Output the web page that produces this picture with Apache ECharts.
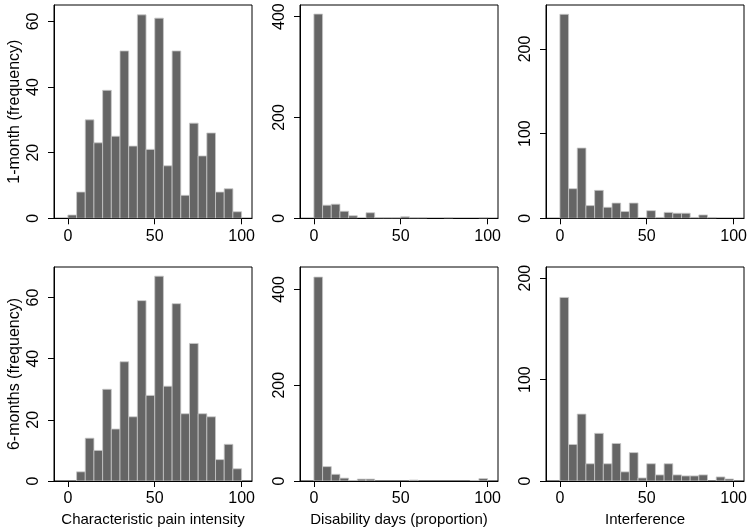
<!DOCTYPE html>
<html>
<head>
<meta charset="utf-8">
<script src="https://cdn.jsdelivr.net/npm/echarts@6/dist/echarts.min.js"></script>
<style>
html,body{margin:0;padding:0;background:#fff;}
#c{width:750px;height:531px;}
</style>
</head>
<body>
<div id="c"></div>
<script>
// ---- data ----
const binStarts = [0,5,10,15,20,25,30,35,40,45,50,55,60,65,70,75,80,85,90,95];
const binWidth = 5;
const pain1m  = [1,8,30,23,39,25,51,22,62,21,61,16,51,7,29,19,26,8,9,2];
const dis1m   = [405,26,28,14,5,0,11,1,1,1,3,1,1,0,0,1,0,0,0,1];
const inter1m = [241,35,83,15,33,13,18,8,18,0,9,1,7,6,6,1,4,1,0,0];
const pain6m  = [0,3,14,10,30,17,39,21,59,28,67,31,58,22,45,22,21,7,12,4];
const dis6m   = [426,30,14,6,1,4,4,0,0,0,0,2,0,0,0,0,0,0,1,5];
const inter6m = [181,36,66,17,47,17,37,9,28,3,17,6,17,6,5,5,6,0,4,2];
const xTicks = [0,50,100];
const yTicksPain = [0,20,40,60];
const yTicksDis = [0,200,400];
const yTicksInter = [0,100,200];
const rowTitles = ['1-month (frequency)','6-months (frequency)'];
const colTitles = ['Characteristic pain intensity','Disability days (proportion)','Interference'];

// ---- layout ----
const panels = [
  {data: pain1m,  ticks: yTicksPain,  ymax: 65,  row: 0, col: 0},
  {data: dis1m,   ticks: yTicksDis,   ymax: 423, row: 0, col: 1},
  {data: inter1m, ticks: yTicksInter, ymax: 252, row: 0, col: 2},
  {data: pain6m,  ticks: yTicksPain,  ymax: 70,  row: 1, col: 0},
  {data: dis6m,   ticks: yTicksDis,   ymax: 447, row: 1, col: 1},
  {data: inter6m, ticks: yTicksInter, ymax: 211, row: 1, col: 2}
];
const colLeft = [54, 300, 546];
const colWidth = 198;
const rowTop = [5, 267];
const rowHeight = [213.3, 214];

const font = 'Liberation Sans, Arial, Helvetica, sans-serif';
const grids = [], xAxes = [], yAxes = [], series = [];

panels.forEach((p, i) => {
  grids.push({
    left: colLeft[p.col], top: rowTop[p.row], width: colWidth, height: rowHeight[p.row],
    show: true, borderColor: '#000', borderWidth: 1, backgroundColor: '#fff'
  });
  xAxes.push({
    type: 'value', gridIndex: i, min: -8, max: 106, interval: 50,
    axisLine: {show: true, onZero: false, lineStyle: {color: '#000', width: 1}},
    axisTick: {show: true, length: 6, lineStyle: {color: '#000'}, customValues: xTicks},
    axisLabel: {show: true, margin: 10, fontSize: 16, color: '#000', fontFamily: font, customValues: xTicks},
    splitLine: {show: false},
    name: p.row === 1 ? colTitles[p.col] : '',
    nameLocation: 'middle', nameGap: 31,
    nameTextStyle: {fontSize: 15, color: '#000', fontFamily: font}
  });
  yAxes.push({
    type: 'value', gridIndex: i, min: 0, max: p.ymax, interval: p.ticks[1] - p.ticks[0],
    axisLine: {show: true, onZero: false, lineStyle: {color: '#000', width: 1}},
    axisTick: {show: true, length: 6, lineStyle: {color: '#000'}, customValues: p.ticks},
    axisLabel: {show: true, rotate: 90, margin: 12, fontSize: 16, color: '#000', fontFamily: font, customValues: p.ticks},
    splitLine: {show: false},
    name: p.col === 0 ? rowTitles[p.row] : '',
    nameLocation: 'middle', nameGap: 31,
    nameTextStyle: {fontSize: 16, color: '#000', fontFamily: font}
  });
  series.push({
    type: 'custom', xAxisIndex: i, yAxisIndex: i,
    data: binStarts.map((b, k) => [b, b + binWidth, p.data[k]]),
    encode: {x: [0, 1], y: 2},
    renderItem: function (params, api) {
      const x0 = api.value(0), x1 = api.value(1), v = api.value(2);
      if (!v) return null;
      const a = api.coord([x0, v]);
      const b = api.coord([x1, 0]);
      return {
        type: 'rect',
        shape: {x: a[0], y: a[1], width: b[0] - a[0], height: b[1] - a[1]},
        style: {fill: '#656565', stroke: '#c8c8c8', lineWidth: 0.8}
      };
    },
    clip: true, silent: true, animation: false
  });
});

const chart = echarts.init(document.getElementById('c'), null, {renderer: 'canvas'});
chart.setOption({
  backgroundColor: '#fff',
  animation: false,
  grid: grids, xAxis: xAxes, yAxis: yAxes, series: series
});
</script>
</body>
</html>
